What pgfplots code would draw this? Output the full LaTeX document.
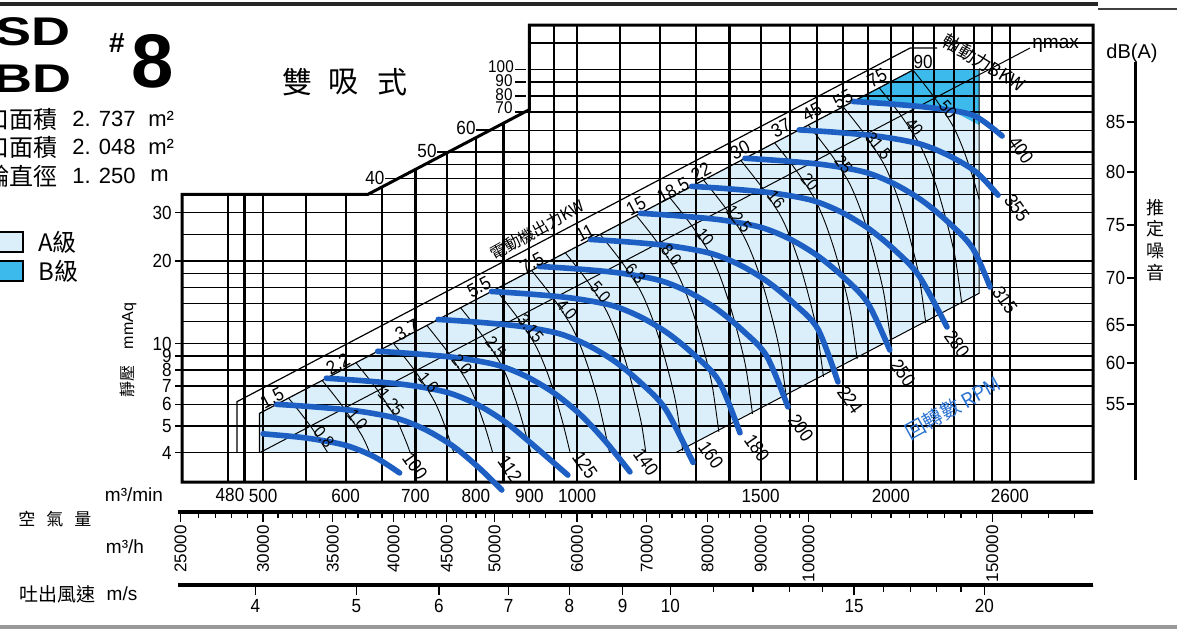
\documentclass[border=0pt]{standalone}
\usepackage{fontspec}
\setmainfont{Liberation Sans}
\newfontfamily\cjk{Noto Sans CJK TC}
\newfontfamily\narrow{Liberation Sans}[FakeStretch=0.9]
\newfontfamily\wide{Liberation Sans}[FakeStretch=1.35]
\usepackage{pgfplots}
\pgfplotsset{compat=1.18}

\definecolor{lightA}{RGB}{218,239,250}
\definecolor{darkB}{RGB}{60,186,236}
\definecolor{curveblue}{RGB}{30,95,195}
\definecolor{rpmblue}{RGB}{45,115,210}

\tikzset{
  thincurve/.style={black, line width=0.45pt, smooth},
  rpmcurve/.style={curveblue, line width=2.8pt, smooth, line cap=round},
  num/.style={font=\narrow\fontsize{9.5}{10}\selectfont, inner sep=0pt},
  smallnum/.style={font=\narrow\fontsize{8.5}{9}\selectfont, inner sep=0pt},
}

\begin{document}
\begin{tikzpicture}

% main chart: air volume m3/min against static pressure mmAq, both log
\begin{axis}[
  at={(0pt,0pt)}, anchor=south west,
  scale only axis, width=455.5pt, height=228.5pt,
  xmode=log, ymode=log,
  xmin=418.1, xmax=3124, ymin=3.1227, ymax=145.4,
  clip=false, set layers,
  axis line style={draw=none},
  tick align=outside, tick pos=left,
  major tick length=0pt, minor tick length=0pt,
  xtick={463,480,500,550,600,650,700,750,800,850,900,950,1000,1100,1200,1300,1400,1500,1600,1700,1800,1900,2000,2100,2200,2300,2400,2500,2600},
  xticklabels={},
  ytick={4,5,6,7,8,9,10,12,14,16,18,20,25,30,35,40,45,50,60,70,80,90,100,125},
  yticklabels={},
  grid=major,
  x grid style={black, line width=1.1pt},
  y grid style={black, line width=0.65pt},
  extra x ticks={480,500,600,700,800,900,1000,1500,2000,2600},
  extra x tick labels={,500,600,700,800,900,1000,1500,2000,2600},
  extra x tick style={grid=none},
  extra y ticks={4,5,6,7,8,9,10,20,30},
  extra y tick labels={4,5,6,7,8,9,10,20,30},
  extra y tick style={grid=none, major tick length=3.5pt},
  every tick/.style={black, line width=0.6pt},
  tick label style={font=\narrow\fontsize{9.5}{10}\selectfont},
  yticklabel style={inner sep=1.5pt},
]
% A and B class regions
\addplot[on layer=axis background, draw=none, fill=lightA] coordinates {
  (496,4) (496,5.558) (2099,99.53) (2430,99.53) (2430,15.26) (1244,4)} -- cycle;
\addplot[on layer=axis background, draw=none, fill=darkB] coordinates {
  (1840,76.48) (2099,99.53) (2430,99.53) (2430,62.7) (2300,70.0) (2100,73.6) (1950,75.6)} -- cycle;
% blank corner above the stepped frame
\addplot[draw=none, fill=white] coordinates {
  (418.1,35) (630,35) (900,71.4) (900,145.4) (418.1,145.4)} -- cycle;
% stepped frame
\addplot[black, line width=1.5pt, line join=miter] coordinates {
  (418.1,3.1227) (3124,3.1227) (3124,145.4) (900,145.4) (900,71.4) (630,35) (418.1,35)} -- cycle;
% motor output band, eta max line, lower limit
\addplot[black, line width=0.6pt] coordinates {(472,4) (472,6.133) (2086,119.8) (2214,119.8)};
\addplot[black, line width=0.6pt] coordinates {(496,4) (496,5.558) (2099,99.53)};
\addplot[black, line width=0.5pt] coordinates {(496.7,4) (2718,119.8)};
\addplot[black, line width=0.5pt] coordinates {(1244,4) (2430,15.26) (2430,99.53)};

% shaft power BKW curves
\addplot[thincurve] coordinates {(529.0,6.32) (543.9,5.54) (558.0,4.86) (576.7,4.0)};
\addplot[thincurve] coordinates {(569.8,7.33) (585.8,6.43) (601.1,5.64) (622.6,4.58) (632.7,4.0)};
\addplot[thincurve] coordinates {(613.8,8.51) (631.1,7.46) (647.5,6.55) (670.7,5.31) (685.3,4.41) (691.9,4.0)};
\addplot[thincurve] coordinates {(666.5,10.03) (685.2,8.79) (703.1,7.72) (728.2,6.26) (744.1,5.20) (761.9,4.0)};
\addplot[thincurve] coordinates {(717.9,11.64) (738.1,10.20) (757.3,8.95) (784.4,7.26) (801.5,6.04) (817.8,4.85) (830.0,4.0)};
\addplot[thincurve] coordinates {(773.4,13.51) (795.1,11.84) (815.8,10.39) (845.0,8.43) (863.4,7.01) (880.9,5.62) (903.1,4.0)};
\addplot[thincurve] coordinates {(835.3,15.76) (858.8,13.81) (881.1,12.12) (912.6,9.83) (932.5,8.17) (951.5,6.56) (969.8,5.08) (984.8,4.0)};
\addplot[thincurve] coordinates {(904.6,18.48) (930.0,16.19) (954.2,14.21) (988.3,11.53) (1009.9,9.59) (1030.4,7.69) (1050.2,5.96) (1074.4,4.0)};
\addplot[thincurve] coordinates {(974.4,21.45) (1001.8,18.79) (1027.9,16.49) (1064.6,13.38) (1087.9,11.12) (1110.0,8.93) (1131.3,6.91) (1152.0,5.17) (1164.0,4.0)};
\addplot[thincurve] coordinates {(1052.4,25.02) (1082.0,21.92) (1110.2,19.24) (1149.9,15.61) (1174.9,12.98) (1198.8,10.42) (1221.8,8.07) (1244.2,6.03) (1262.9,4.06)};
\addplot[thincurve] coordinates {(1139.7,29.34) (1171.7,25.71) (1202.2,22.56) (1245.2,18.31) (1272.4,15.22) (1298.2,12.21) (1323.1,9.46) (1347.4,7.07) (1367.6,4.76)};
\addplot[thincurve] coordinates {(1227.6,34.04) (1262.2,29.83) (1295.0,26.18) (1341.3,21.24) (1370.6,17.66) (1398.4,14.17) (1425.3,10.97) (1451.4,8.21) (1473.2,5.53)};
\addplot[thincurve] coordinates {(1322.4,39.50) (1359.6,34.61) (1395.0,30.38) (1444.9,24.65) (1476.4,20.49) (1506.4,16.45) (1535.3,12.73) (1563.5,9.52) (1587.0,6.41)};
\addplot[thincurve] coordinates {(1435.8,46.57) (1476.2,40.80) (1514.7,35.81) (1568.8,29.06) (1603.0,24.15) (1635.6,19.39) (1667.0,15.01) (1697.5,11.23) (1723.1,7.56)};
\addplot[thincurve] coordinates {(1546.7,54.04) (1590.2,47.35) (1631.6,41.56) (1689.9,33.72) (1726.8,28.03) (1761.8,22.50) (1795.7,17.42) (1828.6,13.03) (1856.1,8.77)};
\addplot[thincurve] coordinates {(1666.2,62.71) (1713.0,54.94) (1757.6,48.22) (1820.4,39.12) (1860.1,32.52) (1897.9,26.10) (1934.4,20.21) (1969.8,15.12) (1999.4,10.18)};
\addplot[thincurve] coordinates {(1799.6,73.15) (1850.2,64.09) (1898.4,56.26) (1966.2,45.64) (2009.1,37.94) (2049.9,30.45) (2089.3,23.58) (2127.6,17.64) (2159.6,11.88)};
\addplot[thincurve] coordinates {(1948.8,85.78) (2003.6,75.16) (2055.7,65.97) (2129.2,53.52) (2175.7,44.49) (2219.8,35.71) (2262.5,27.65) (2304.0,20.68) (2338.6,13.93)};
\addplot[thincurve] coordinates {(2099.2,99.54) (2158.2,87.21) (2214.4,76.55) (2293.6,62.10) (2343.6,51.63) (2391.2,41.44) (2430,33.55)};

% fan curves, one per RPM
\addplot[rpmcurve] coordinates {(500,4.68) (550,4.52) (600,4.25) (640,3.85) (676,3.37)};
\addplot[rpmcurve] coordinates {(515,6.00) (560,5.87) (616,5.67) (672,5.33) (717,4.83) (762,4.20) (806,3.51) (847,2.92)};
\addplot[rpmcurve] coordinates {(575,7.47) (625,7.31) (688,7.06) (750,6.64) (800,6.02) (850,5.23) (900,4.38) (980,3.31)};
\addplot[rpmcurve] coordinates {(644,9.37) (700,9.17) (770,8.86) (840,8.33) (896,7.55) (952,6.57) (1008,5.49) (1064,4.41) (1124,3.40)};
\addplot[rpmcurve] coordinates {(736,12.24) (800,11.98) (880,11.57) (960,10.88) (1024,9.86) (1088,8.58) (1152,7.17) (1216,5.76) (1292,3.68)};
\addplot[rpmcurve] coordinates {(828,15.49) (900,15.16) (990,14.64) (1080,13.77) (1152,12.47) (1224,10.85) (1296,9.07) (1368,7.29) (1433,4.72)};
\addplot[rpmcurve] coordinates {(920,19.12) (1000,18.72) (1100,18.08) (1200,17.00) (1280,15.40) (1360,13.40) (1440,11.20) (1520,9.00) (1593,5.87)};
\addplot[rpmcurve] coordinates {(1030,23.98) (1120,23.48) (1232,22.68) (1344,21.32) (1434,19.32) (1523,16.81) (1613,14.05) (1702,11.29) (1779,7.24)};
\addplot[rpmcurve] coordinates {(1150,29.88) (1250,29.25) (1375,28.25) (1500,26.56) (1600,24.06) (1700,20.94) (1800,17.50) (1900,14.06) (1995,9.47)};
\addplot[rpmcurve] coordinates {(1288,37.48) (1400,36.69) (1540,35.44) (1680,33.32) (1792,30.18) (1904,26.26) (2016,21.95) (2128,17.64) (2263,11.49)};
\addplot[rpmcurve] coordinates {(1449,47.43) (1575,46.44) (1732,44.85) (1890,42.17) (2016,38.20) (2142,33.24) (2268,27.78) (2394,22.33) (2489,16.08)};
\addplot[rpmcurve] coordinates {(1633,60.24) (1775,58.98) (1952,56.96) (2130,53.56) (2272,48.52) (2414,42.22) (2533,34.8)};
\addplot[rpmcurve] coordinates {(1840,76.48) (2000,74.88) (2200,72.32) (2400,68.0) (2556,57.2)};
\end{axis}

% m3/h scale
\begin{axis}[
  at={(-2pt,-15.5pt)}, anchor=south west,
  scale only axis, width=457.5pt, height=1pt,
  xmode=log, xmin=24866, xmax=187440, ymin=0, ymax=1,
  hide y axis,
  axis line style={line width=0.8pt},
  tick align=outside, tick pos=left,
  xtick={25000,30000,35000,40000,45000,50000,60000,70000,80000,90000,100000,150000},
  xticklabels={25000,30000,35000,40000,45000,50000,60000,70000,80000,90000,100000,150000},
  minor xtick={26000,27000,28000,29000,31000,32000,33000,34000,36000,37000,38000,39000,41000,42000,43000,44000,46000,47000,48000,49000,52000,54000,56000,58000,62000,64000,66000,68000,72000,74000,76000,78000,82000,84000,86000,88000,92000,94000,96000,98000,105000,110000,115000,120000,125000,130000,135000,140000,145000,160000,170000,180000},
  major tick length=4.5pt, minor tick length=2.5pt,
  every tick/.style={black, line width=0.6pt},
  xticklabel style={rotate=90, anchor=east, inner sep=1.5pt, font=\fontsize{8.5}{9}\selectfont},
]
\addplot[draw=none] coordinates {(25000,0) (180000,1)};
\end{axis}

% outlet velocity scale
\begin{axis}[
  at={(-2pt,-52pt)}, anchor=south west,
  scale only axis, width=457.5pt, height=1pt,
  xmode=log, xmin=3.3727, xmax=25.423, ymin=0, ymax=1,
  hide y axis,
  axis line style={line width=0.8pt},
  tick align=outside, tick pos=left,
  xtick={4,5,6,7,8,9,10,15,20},
  xticklabels={4,5,6,7,8,9,10,15,20},
  minor xtick={11,12,13,14,16,17,18,19},
  major tick length=4.5pt, minor tick length=3pt,
  every tick/.style={black, line width=0.6pt},
  xticklabel style={inner sep=2pt, font=\narrow\fontsize{9.5}{10}\selectfont},
]
\addplot[draw=none] coordinates {(4,0) (20,1)};
\end{axis}

% noise scale dB(A)
\begin{axis}[
  at={(476.2pt,1pt)}, anchor=south west,
  scale only axis, width=0.6pt, height=209pt,
  xmin=0, xmax=1, ymin=2, ymax=420,
  hide x axis,
  axis line style={line width=0.9pt},
  tick align=outside, tick pos=left,
  ytick={360,310,257,204,157,119,78},
  yticklabels={85,80,75,70,65,60,55},
  major tick length=3.5pt,
  every tick/.style={black, line width=0.6pt},
  yticklabel style={inner sep=1pt, font=\narrow\fontsize{9.5}{10}\selectfont},
]
\addplot[draw=none] coordinates {(0,2) (1,420)};
\end{axis}

% texts, placed in reference pixels
\begin{scope}[x=0.5pt, y=-0.5pt, shift={(-91pt,241pt)}]
\draw[line width=2pt, black!85] (0,4) -- (1098,4);
\draw[line width=1.4pt, black!75] (1098,9) -- (1177,9);
\draw[line width=1.6pt, black!40] (0,627) -- (1177,627);

\node[font=\wide\bfseries\fontsize{20}{20}\selectfont, anchor=base west, inner sep=0pt] at (-5,45) {SD};
\node[font=\wide\bfseries\fontsize{20}{20}\selectfont, anchor=base west, inner sep=0pt] at (-7,92) {BD};
\node[font=\bfseries\fontsize{14}{14}\selectfont, inner sep=0pt] at (117,43) {\#};
\node[font=\bfseries\fontsize{38}{38}\selectfont, inner sep=0pt] at (153,61) {8};

\node[font=\cjk\fontsize{15}{15}\selectfont, inner sep=0pt] at (297,82) {雙};
\node[font=\cjk\fontsize{15}{15}\selectfont, inner sep=0pt] at (343,82) {吸};
\node[font=\cjk\fontsize{15}{15}\selectfont, inner sep=0pt] at (392,82) {式};

\node[font=\cjk\fontsize{12}{12}\selectfont, anchor=east, inner sep=0pt] at (58,119) {吸入口面積};
\node[font=\fontsize{11}{11}\selectfont, anchor=west, inner sep=0pt] at (72,119) {2. 737};
\node[font=\fontsize{11}{11}\selectfont, anchor=west, inner sep=0pt] at (148,119) {m²};
\node[font=\cjk\fontsize{12}{12}\selectfont, anchor=east, inner sep=0pt] at (58,147) {吐出口面積};
\node[font=\fontsize{11}{11}\selectfont, anchor=west, inner sep=0pt] at (72,147) {2. 048};
\node[font=\fontsize{11}{11}\selectfont, anchor=west, inner sep=0pt] at (148,147) {m²};
\node[font=\cjk\fontsize{12}{12}\selectfont, anchor=east, inner sep=0pt] at (58,176) {葉輪直徑};
\node[font=\fontsize{11}{11}\selectfont, anchor=west, inner sep=0pt] at (72,176) {1. 250};
\node[font=\fontsize{11}{11}\selectfont, anchor=west, inner sep=0pt] at (150,176) {m};

\draw[line width=0.8pt, fill=lightA] (-6,232) rectangle (23,252);
\draw[line width=0.8pt, fill=darkB] (-6,261) rectangle (23,281);
\node[font=\cjk\fontsize{12}{12}\selectfont, anchor=west, inner sep=0pt] at (38,242) {A級};
\node[font=\cjk\fontsize{12}{12}\selectfont, anchor=west, inner sep=0pt] at (38,271) {B級};

\node[rotate=90, inner sep=0pt] at (128,350) {{\cjk\fontsize{8}{8}\selectfont 靜壓}\hspace{8pt}{\fontsize{8}{8}\selectfont mmAq}};

\node[font=\fontsize{9.5}{10}\selectfont, inner sep=0pt] at (134,495) {m³/min};
\node[font=\cjk\fontsize{8.5}{9}\selectfont, inner sep=0pt] at (55,519) {空\hspace{5.5pt}氣\hspace{5.5pt}量};
\node[font=\fontsize{9.5}{10}\selectfont, inner sep=0pt] at (125,547) {m³/h};
\node[font=\cjk\fontsize{9.5}{10}\selectfont, anchor=west, inner sep=0pt] at (19,594) {吐出風速};
\node[font=\fontsize{9.5}{10}\selectfont, inner sep=0pt] at (122,594) {m/s};
\node[num] at (230,495) {480};

% pressure labels along the stepped frame
\node[num] at (375,178) {40};
\node[num] at (427,151) {50};
\node[num] at (466,128) {60};
\node[smallnum] at (504,108) {70};
\node[smallnum] at (504,94.5) {80};
\node[smallnum] at (504,81) {90};
\node[smallnum] at (501,67) {100};
\draw[line width=0.6pt] (385,178.5) -- (398,178.5);
\draw[line width=0.6pt] (437,152) -- (448,152);
\draw[line width=0.6pt] (476,130) -- (490,130);
\draw[line width=0.6pt] (515,112) -- (526,112);
\draw[line width=0.6pt] (515,96) -- (526,96);
\draw[line width=0.6pt] (515,82) -- (526,82);
\draw[line width=0.6pt] (515,69.5) -- (526,69.5);

% motor output kW in the band
\foreach \x/\y/\t in {272/398/1.5, 338/364/2.2, 407/330/3.7, 479/287/5.5, 532/263/7.5, 585/233/11, 636/206/15, 673/190/18.5, 701/172/22, 740/150/30, 781/128/37, 812/112/45, 843/99/55, 877/78/75}
  \node[num, rotate=28] at (\x,\y) {\t};
\node[num] at (923,62) {90};
\node[font=\cjk\fontsize{8}{8}\selectfont, rotate=29, inner sep=0pt] at (537,230) {電動機出力KW};

% shaft power labels along eta max
\foreach \x/\y/\t in {324/437/0.8, 357.5/419.6/1.0, 391/402/1.25, 428.4/382.4/1.6, 462/364.6/2.0, 495.8/347/2.5, 530.7/328.6/3.15, 566.8/309.6/4.0, 600.5/292/5.0, 635.4/273.6/6.3, 671.4/254.7/8.0, 705/237/10, 738.8/219.3/12.5, 776/199.7/16, 809.8/182/20, 843.5/164.3/25, 878.4/146/31.5, 914.4/127/40, 948/109.3/50}
  \node[smallnum, rotate=-50] at (\x,\y) {\t};
\node[font=\cjk\fontsize{9}{9}\selectfont, rotate=-31, inner sep=0pt] at (984,63) {軸動力BKW};
\node[font=\fontsize{9.5}{10}\selectfont, anchor=west, inner sep=0pt] at (1032,45) {ηmax};

% RPM labels
\foreach \x/\y/\t in {415/466/100, 510/469/112, 585/465/125, 646/462/140, 711/455/160, 757/448/180, 801/428/200, 850/400/224, 903/373/250, 957/344/280, 1005/300/315, 1017/208/355, 1021/150/400}
  \node[num, rotate=-55] at (\x,\y) {\t};
\node[font=\cjk\fontsize{10}{10}\selectfont, rotate=29, inner sep=0pt, text=rpmblue] at (953,408) {回轉數 RPM};

% noise scale captions
\node[font=\fontsize{10}{10}\selectfont, inner sep=0pt] at (1132,53) {dB(A)};
\node[font=\cjk\fontsize{9}{9}\selectfont, inner sep=0pt] at (1155,208) {推};
\node[font=\cjk\fontsize{9}{9}\selectfont, inner sep=0pt] at (1155,229) {定};
\node[font=\cjk\fontsize{9}{9}\selectfont, inner sep=0pt] at (1155,251) {噪};
\node[font=\cjk\fontsize{9}{9}\selectfont, inner sep=0pt] at (1155,273) {音};
\end{scope}

\pgfresetboundingbox
\useasboundingbox (-91pt,-73.5pt) rectangle (497.5pt,241pt);
\end{tikzpicture}
\end{document}
